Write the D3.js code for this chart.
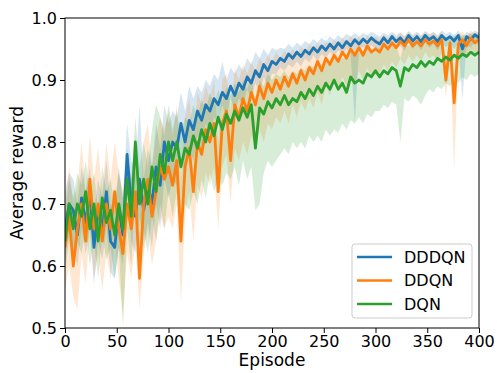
<!DOCTYPE html>
<html>
<head>
<meta charset="utf-8">
<script src="https://cdn.jsdelivr.net/npm/d3@7"></script>
<style>
  body { margin: 0; background: #fff; }
  svg { display: block; font-family: "DejaVu Sans", sans-serif; }
</style>
</head>
<body>
<svg id="chart" width="497" height="373"></svg>
<script>
// episodes sampled every 4 steps
const episodes = d3.range(0, 401, 4);

const seriesNames = ["DDDQN", "DDQN", "DQN"];
const seriesColors = ["#1f77b4", "#ff7f0e", "#2ca02c"];

const dddqnMean = [
  0.66, 0.70, 0.69, 0.65, 0.71, 0.67, 0.72, 0.63, 0.69, 0.66, 0.72, 0.64, 0.63, 0.69, 0.65, 0.78, 0.70, 0.68, 0.74, 0.69, 0.73, 0.70, 0.76, 0.73, 0.80, 0.77,
  0.80, 0.79, 0.83, 0.80, 0.835, 0.82, 0.85, 0.835, 0.86, 0.85, 0.87, 0.86, 0.88, 0.87, 0.89, 0.875, 0.895, 0.885, 0.905, 0.895, 0.915, 0.905, 0.925, 0.915, 0.93,
  0.925, 0.935, 0.93, 0.942, 0.935, 0.945, 0.938, 0.948, 0.942, 0.952, 0.945, 0.955, 0.948, 0.958, 0.95, 0.96, 0.952, 0.962, 0.955, 0.965, 0.958, 0.966, 0.96, 0.968, 0.962,
  0.958, 0.968, 0.96, 0.97, 0.962, 0.968, 0.96, 0.972, 0.963, 0.97, 0.962, 0.972, 0.965, 0.97, 0.962, 0.972, 0.965, 0.97, 0.963, 0.972, 0.95, 0.97, 0.965, 0.973, 0.968
];
const dddqnHi = [
  0.72, 0.75, 0.74, 0.70, 0.76, 0.72, 0.76, 0.69, 0.74, 0.71, 0.77, 0.70, 0.69, 0.75, 0.71, 0.83, 0.77, 0.75, 0.86, 0.74, 0.79, 0.76, 0.83, 0.79, 0.86, 0.83,
  0.85, 0.84, 0.88, 0.85, 0.89, 0.87, 0.89, 0.88, 0.9, 0.89, 0.91, 0.9, 0.93, 0.9, 0.92, 0.91, 0.925, 0.915, 0.935, 0.925, 0.945, 0.935, 0.95, 0.94, 0.952,
  0.948, 0.952, 0.95, 0.958, 0.952, 0.96, 0.955, 0.963, 0.958, 0.966, 0.96, 0.968, 0.962, 0.97, 0.965, 0.972, 0.967, 0.974, 0.97, 0.976, 0.97, 0.976, 0.972, 0.978, 0.974,
  0.97, 0.976, 0.972, 0.978, 0.972, 0.977, 0.971, 0.979, 0.973, 0.978, 0.972, 0.979, 0.974, 0.978, 0.972, 0.98, 0.974, 0.978, 0.972, 0.98, 0.968, 0.978, 0.974, 0.98, 0.976
];
const dddqnLo = [
  0.61, 0.65, 0.63, 0.60, 0.66, 0.62, 0.66, 0.57, 0.64, 0.61, 0.66, 0.59, 0.58, 0.63, 0.60, 0.72, 0.64, 0.62, 0.68, 0.63, 0.67, 0.63, 0.70, 0.66, 0.74, 0.71,
  0.74, 0.73, 0.78, 0.74, 0.79, 0.77, 0.81, 0.79, 0.83, 0.81, 0.84, 0.83, 0.86, 0.84, 0.87, 0.85, 0.87, 0.86, 0.885, 0.87, 0.895, 0.88, 0.905, 0.89, 0.91,
  0.91, 0.92, 0.915, 0.925, 0.92, 0.93, 0.922, 0.935, 0.928, 0.94, 0.93, 0.942, 0.935, 0.945, 0.938, 0.948, 0.94, 0.95, 0.943, 0.83, 0.945, 0.954, 0.948, 0.956, 0.95,
  0.945, 0.956, 0.948, 0.958, 0.95, 0.955, 0.947, 0.96, 0.95, 0.958, 0.948, 0.96, 0.952, 0.958, 0.948, 0.96, 0.953, 0.958, 0.95, 0.96, 0.868, 0.958, 0.952, 0.962, 0.956
];

const ddqnMean = [
  0.63, 0.68, 0.60, 0.66, 0.70, 0.64, 0.74, 0.66, 0.70, 0.64, 0.70, 0.66, 0.72, 0.66, 0.62, 0.70, 0.66, 0.72, 0.58, 0.70, 0.74, 0.68, 0.72, 0.76, 0.74, 0.76,
  0.73, 0.77, 0.64, 0.76, 0.79, 0.72, 0.80, 0.78, 0.82, 0.80, 0.83, 0.72, 0.83, 0.85, 0.77, 0.86, 0.84, 0.87, 0.85, 0.88, 0.86, 0.89, 0.87, 0.895, 0.88,
  0.90, 0.885, 0.905, 0.89, 0.91, 0.895, 0.915, 0.90, 0.92, 0.91, 0.93, 0.915, 0.935, 0.925, 0.94, 0.93, 0.945, 0.935, 0.95, 0.94, 0.952, 0.94, 0.955, 0.945, 0.95,
  0.945, 0.958, 0.95, 0.96, 0.952, 0.962, 0.955, 0.965, 0.955, 0.962, 0.955, 0.965, 0.958, 0.963, 0.955, 0.965, 0.90, 0.96, 0.863, 0.958, 0.965, 0.955, 0.968, 0.96, 0.965
];
const ddqnHi = [
  0.70, 0.76, 0.70, 0.73, 0.80, 0.72, 0.81, 0.74, 0.79, 0.72, 0.80, 0.74, 0.80, 0.75, 0.72, 0.78, 0.74, 0.81, 0.68, 0.80, 0.83, 0.76, 0.81, 0.84, 0.82, 0.85,
  0.81, 0.86, 0.74, 0.84, 0.87, 0.81, 0.88, 0.86, 0.89, 0.87, 0.90, 0.80, 0.90, 0.91, 0.85, 0.92, 0.90, 0.925, 0.91, 0.93, 0.915, 0.935, 0.925, 0.94, 0.93,
  0.945, 0.935, 0.948, 0.94, 0.95, 0.94, 0.955, 0.945, 0.958, 0.95, 0.96, 0.952, 0.962, 0.955, 0.965, 0.958, 0.968, 0.96, 0.97, 0.962, 0.97, 0.962, 0.972, 0.965, 0.97,
  0.965, 0.973, 0.967, 0.975, 0.968, 0.976, 0.97, 0.978, 0.97, 0.976, 0.97, 0.978, 0.972, 0.977, 0.97, 0.978, 0.93, 0.975, 0.9, 0.975, 0.978, 0.97, 0.98, 0.974, 0.978
];
const ddqnLo = [
  0.56, 0.60, 0.55, 0.53, 0.62, 0.57, 0.66, 0.58, 0.62, 0.56, 0.62, 0.58, 0.64, 0.58, 0.52, 0.62, 0.58, 0.64, 0.53, 0.62, 0.66, 0.60, 0.64, 0.68, 0.66, 0.68,
  0.66, 0.70, 0.54, 0.68, 0.72, 0.64, 0.73, 0.71, 0.75, 0.73, 0.76, 0.66, 0.76, 0.78, 0.70, 0.79, 0.77, 0.80, 0.78, 0.81, 0.79, 0.82, 0.80, 0.83, 0.82,
  0.84, 0.83, 0.85, 0.83, 0.86, 0.84, 0.865, 0.85, 0.87, 0.855, 0.88, 0.86, 0.89, 0.875, 0.9, 0.885, 0.905, 0.89, 0.91, 0.895, 0.915, 0.9, 0.92, 0.905, 0.915,
  0.91, 0.925, 0.915, 0.93, 0.92, 0.935, 0.925, 0.94, 0.93, 0.94, 0.93, 0.945, 0.935, 0.94, 0.93, 0.945, 0.87, 0.94, 0.755, 0.94, 0.945, 0.935, 0.95, 0.94, 0.945
];

const dqnMean = [
  0.64, 0.70, 0.66, 0.70, 0.68, 0.72, 0.66, 0.70, 0.64, 0.71, 0.67, 0.69, 0.65, 0.70, 0.66, 0.74, 0.68, 0.80, 0.70, 0.74, 0.70, 0.76, 0.72, 0.78, 0.75, 0.80,
  0.77, 0.80, 0.76, 0.79, 0.78, 0.81, 0.79, 0.82, 0.80, 0.83, 0.81, 0.84, 0.82, 0.845, 0.83, 0.85, 0.835, 0.855, 0.84, 0.86, 0.79, 0.855, 0.845, 0.865, 0.855,
  0.87, 0.86, 0.875, 0.86, 0.87, 0.865, 0.88, 0.87, 0.885, 0.875, 0.89, 0.88, 0.895, 0.885, 0.90, 0.885, 0.895, 0.88, 0.905, 0.895, 0.90, 0.895, 0.91, 0.905, 0.915,
  0.905, 0.915, 0.91, 0.92, 0.915, 0.89, 0.92, 0.915, 0.925, 0.92, 0.93, 0.922, 0.93, 0.925, 0.935, 0.93, 0.937, 0.932, 0.94, 0.935, 0.942, 0.938, 0.945, 0.94, 0.945
];
const dqnHi = [
  0.69, 0.74, 0.71, 0.75, 0.73, 0.77, 0.71, 0.75, 0.69, 0.76, 0.72, 0.74, 0.70, 0.76, 0.71, 0.79, 0.74, 0.84, 0.76, 0.80, 0.76, 0.82, 0.86, 0.84, 0.81, 0.86,
  0.82, 0.85, 0.81, 0.84, 0.83, 0.86, 0.84, 0.87, 0.85, 0.88, 0.86, 0.885, 0.865, 0.89, 0.875, 0.895, 0.88, 0.9, 0.885, 0.905, 0.86, 0.9, 0.89, 0.91, 0.9,
  0.91, 0.905, 0.915, 0.905, 0.915, 0.91, 0.92, 0.915, 0.925, 0.92, 0.93, 0.925, 0.935, 0.93, 0.94, 0.93, 0.935, 0.935, 0.945, 0.94, 0.945, 0.94, 0.95, 0.945, 0.955,
  0.95, 0.955, 0.952, 0.96, 0.955, 0.935, 0.96, 0.955, 0.962, 0.958, 0.965, 0.96, 0.965, 0.962, 0.968, 0.964, 0.97, 0.965, 0.972, 0.968, 0.973, 0.97, 0.975, 0.97, 0.975
];
const dqnLo = [
  0.59, 0.64, 0.60, 0.64, 0.62, 0.66, 0.60, 0.64, 0.58, 0.65, 0.61, 0.63, 0.58, 0.63, 0.50, 0.66, 0.60, 0.72, 0.62, 0.66, 0.62, 0.68, 0.64, 0.70, 0.66, 0.72,
  0.68, 0.72, 0.67, 0.70, 0.69, 0.72, 0.70, 0.74, 0.71, 0.75, 0.72, 0.74, 0.73, 0.75, 0.74, 0.76, 0.73, 0.77, 0.74, 0.76, 0.69, 0.70, 0.75, 0.77, 0.76,
  0.77, 0.78, 0.79, 0.78, 0.80, 0.79, 0.80, 0.79, 0.81, 0.80, 0.81, 0.80, 0.82, 0.81, 0.82, 0.815, 0.83, 0.82, 0.835, 0.83, 0.84, 0.83, 0.845, 0.84, 0.85,
  0.85, 0.86, 0.855, 0.865, 0.86, 0.80, 0.87, 0.865, 0.875, 0.87, 0.86, 0.875, 0.885, 0.88, 0.89, 0.885, 0.895, 0.89, 0.90, 0.895, 0.905, 0.90, 0.91, 0.905, 0.91
];

const xTicks = [0, 50, 100, 150, 200, 250, 300, 350, 400];
const yTicks = [0.5, 0.6, 0.7, 0.8, 0.9, 1.0];

const series = [
  { name: seriesNames[0], color: seriesColors[0], mean: dddqnMean, hi: dddqnHi, lo: dddqnLo },
  { name: seriesNames[1], color: seriesColors[1], mean: ddqnMean, hi: ddqnHi, lo: ddqnLo },
  { name: seriesNames[2], color: seriesColors[2], mean: dqnMean, hi: dqnHi, lo: dqnLo },
];

const svg = d3.select("#chart");
const box = { left: 65, right: 479, top: 18, bottom: 328 };

const x = d3.scaleLinear().domain([0, 400]).range([box.left, box.right]);
const y = d3.scaleLinear().domain([0.5, 1.0]).range([box.bottom, box.top]);

svg.append("defs").append("clipPath").attr("id", "clip")
  .append("rect").attr("x", box.left).attr("y", box.top)
  .attr("width", box.right - box.left).attr("height", box.bottom - box.top);

const plot = svg.append("g").attr("clip-path", "url(#clip)");

// bands
series.forEach((s) => {
  const area = d3.area()
    .x((d, i) => x(episodes[i]))
    .y0((d, i) => y(s.lo[i]))
    .y1((d, i) => y(s.hi[i]));
  plot.append("path")
    .datum(s.mean)
    .attr("d", area)
    .attr("fill", s.color)
    .attr("fill-opacity", 0.19);
});

// mean lines
series.forEach((s) => {
  const line = d3.line()
    .x((d, i) => x(episodes[i]))
    .y((d) => y(d));
  plot.append("path")
    .datum(s.mean)
    .attr("d", line)
    .attr("fill", "none")
    .attr("stroke", s.color)
    .attr("stroke-width", 2.8)
    .attr("stroke-linejoin", "round");
});

// axes
const xAxis = svg.append("g")
  .attr("transform", `translate(0,${box.bottom})`)
  .call(d3.axisBottom(x).tickValues(xTicks).tickSize(5).tickPadding(3).tickFormat(d3.format("d")));
const yAxis = svg.append("g")
  .attr("transform", `translate(${box.left},0)`)
  .call(d3.axisLeft(y).tickValues(yTicks).tickSize(5).tickPadding(3).tickFormat(d3.format(".1f")));

[xAxis, yAxis].forEach((g) => {
  g.selectAll("text").attr("font-size", "16px").attr("fill", "#000")
    .attr("font-family", "DejaVu Sans, sans-serif");
  g.selectAll("line").attr("stroke", "#000").attr("stroke-width", 1);
  g.select(".domain").remove();
});

// frame
svg.append("rect")
  .attr("x", box.left).attr("y", box.top)
  .attr("width", box.right - box.left).attr("height", box.bottom - box.top)
  .attr("fill", "none").attr("stroke", "#000").attr("stroke-width", 1);

// axis labels
svg.append("text")
  .attr("x", (box.left + box.right) / 2).attr("y", 366)
  .attr("text-anchor", "middle").attr("font-size", "17px")
  .text("Episode");
svg.append("text")
  .attr("transform", `translate(23,${(box.top + box.bottom) / 2}) rotate(-90)`)
  .attr("text-anchor", "middle").attr("font-size", "17px")
  .text("Average reward");

// legend
const legend = svg.append("g");
legend.append("rect")
  .attr("x", 352).attr("y", 244).attr("width", 120).attr("height", 74)
  .attr("rx", 3).attr("fill", "#fff").attr("fill-opacity", 0.8)
  .attr("stroke", "#ccc").attr("stroke-width", 1);
series.forEach((s, i) => {
  const ly = 257 + i * 23.5;
  legend.append("line")
    .attr("x1", 357).attr("x2", 392).attr("y1", ly).attr("y2", ly)
    .attr("stroke", s.color).attr("stroke-width", 2.6);
  legend.append("text")
    .attr("x", 404).attr("y", ly).attr("dy", "0.36em")
    .attr("font-size", "16px").text(s.name);
});
</script>
</body>
</html>
